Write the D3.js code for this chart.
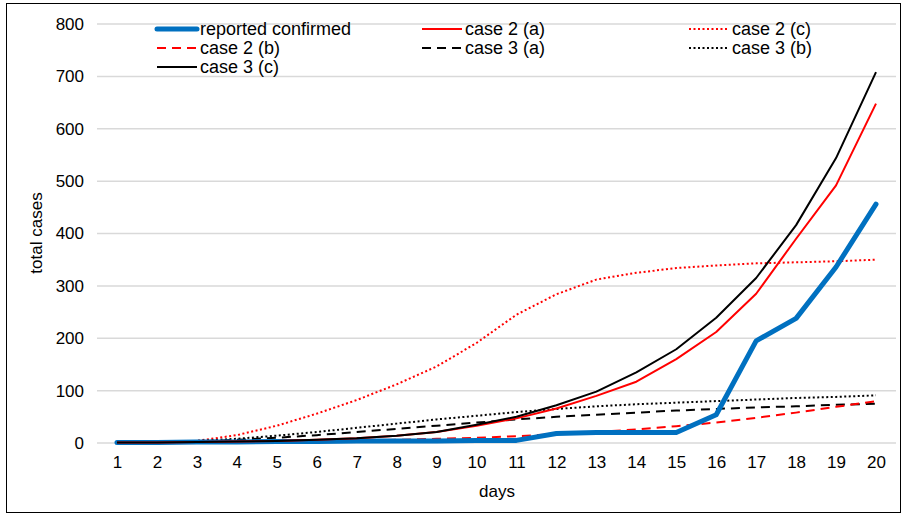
<!DOCTYPE html>
<html><head><meta charset="utf-8">
<script src="https://cdn.jsdelivr.net/npm/d3@7"></script>
<style>body{margin:0;background:#fff;} text{font-family:"Liberation Sans",Arial,sans-serif;}</style>
</head><body>
<svg id="c" width="902" height="514"></svg>
<script>
const days = d3.range(1, 21);
const yTicks = [0,100,200,300,400,500,600,700,800];
const reported   = [1,1,2,2,3,3,4,4,4,5,5,18,20,20,20,54,195,238,336,456];
const case2a     = [1,1,2,3,4,6,9,14,21,33,47,66,90,117,160,212,285,390,492,648];
const case2b     = [1,1,2,2,3,4,5,6,8,10,13,17,21,26,32,39,48,58,69,80];
const case2c     = [1,2,4,15,33,56,82,112,146,191,245,284,312,325,334,339,343,345,347,350];
const case3a     = [1,2,3,6,10,15,21,27,33,39,45,50,54,58,62,65,68,70,73,75];
const case3b     = [1,2,4,8,14,21,29,37,45,52,59,65,70,74,77,80,83,86,88,91];
const case3c     = [1,1,2,3,4,6,9,14,21,35,50,72,98,135,179,239,315,416,544,708];

const series = [
  {name:"reported confirmed", data:reported, color:"#0070C0", w:5, dash:null, cap:"round"},
  {name:"case 2 (a)", data:case2a, color:"#FF0000", w:2, dash:null},
  {name:"case 2 (c)", data:case2c, color:"#FF0000", w:2, dash:"2,2.5"},
  {name:"case 2 (b)", data:case2b, color:"#FF0000", w:2, dash:"9,6"},
  {name:"case 3 (a)", data:case3a, color:"#000000", w:2, dash:"9,6"},
  {name:"case 3 (b)", data:case3b, color:"#000000", w:2, dash:"2,2.5"},
  {name:"case 3 (c)", data:case3c, color:"#000000", w:2, dash:null}
];
const drawOrder = ["case 2 (c)","case 3 (b)","case 3 (a)","case 2 (b)","reported confirmed","case 2 (a)","case 3 (c)"];

const svg = d3.select("#c");
svg.append("rect").attr("x",6.5).attr("y",3.5).attr("width",894).attr("height",509)
  .attr("fill","none").attr("stroke","#000").attr("stroke-width",1);

const x = d3.scalePoint().domain(days).range([117, 876]);
const y = d3.scaleLinear().domain([0, 800]).range([443, 24]);
const left = 97, right = 896;

// gridlines
svg.append("g").selectAll("line").data(yTicks).join("line")
  .attr("x1",left).attr("x2",right).attr("y1",d=>y(d)).attr("y2",d=>y(d))
  .attr("stroke","#d9d9d9").attr("stroke-width",1.5);

// y tick labels
const yAxis = svg.append("g").attr("transform",`translate(${left},0)`)
  .call(d3.axisLeft(y).tickValues(yTicks).tickSize(0).tickPadding(13));
yAxis.select(".domain").remove();
yAxis.selectAll("text").attr("font-size",17).attr("fill","#000").attr("font-family","Liberation Sans, Arial, sans-serif");

// x tick labels
const xAxis = svg.append("g").attr("transform",`translate(0,${y(0)})`)
  .call(d3.axisBottom(x).tickSize(0).tickPadding(13));
xAxis.select(".domain").remove();
xAxis.selectAll("text").attr("font-size",17).attr("fill","#000").attr("font-family","Liberation Sans, Arial, sans-serif");

// axis titles
svg.append("text").attr("x",497).attr("y",497).attr("text-anchor","middle")
  .attr("font-size",17).text("days");
svg.append("text").attr("transform","translate(42,233) rotate(-90)").attr("text-anchor","middle")
  .attr("font-size",17).text("total cases");

// lines
const line = d3.line().x((d,i)=>x(days[i])).y(d=>y(d));
const byName = Object.fromEntries(series.map(s=>[s.name,s]));
drawOrder.forEach(n=>{
  const s = byName[n];
  svg.append("path").datum(s.data).attr("d",line).attr("fill","none")
    .attr("stroke",s.color).attr("stroke-width",s.w)
    .attr("stroke-dasharray",s.dash).attr("stroke-linejoin","round")
    .attr("stroke-linecap", s.cap||"butt");
});

// legend
const cols = [157, 422, 689];
const rows = [29, 48, 67];
series.forEach((s,i)=>{
  const cx = cols[i%3], cy = rows[Math.floor(i/3)];
  svg.append("line").attr("x1",cx).attr("x2",cx+40).attr("y1",cy).attr("y2",cy)
    .attr("stroke",s.color).attr("stroke-width",s.w).attr("stroke-dasharray",s.dash)
    .attr("stroke-linecap", s.cap||"butt");
  svg.append("text").attr("x",cx+43).attr("y",cy).attr("dy","0.35em")
    .attr("font-size",18).text(s.name);
});
</script>
</body></html>
